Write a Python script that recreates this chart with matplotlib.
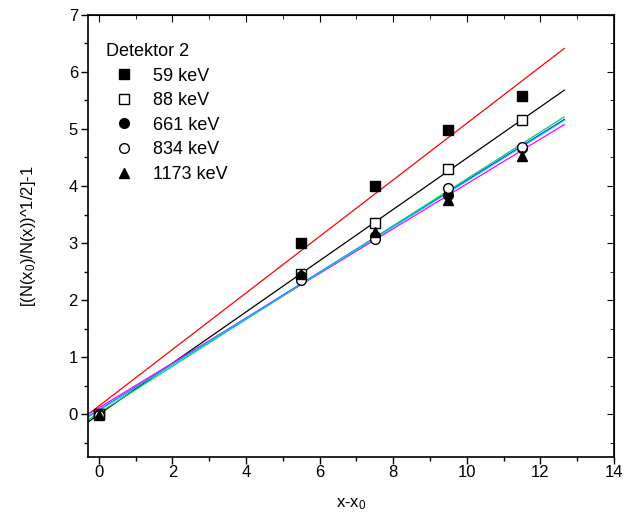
import matplotlib
matplotlib.use("Agg")
import matplotlib.pyplot as plt
from matplotlib.ticker import MultipleLocator
import numpy as np

plt.rcParams['font.family'] = ['Liberation Sans', 'DejaVu Sans']
plt.rcParams['mathtext.fontset'] = 'custom'
plt.rcParams['mathtext.rm'] = 'Liberation Sans'
plt.rcParams['mathtext.it'] = 'Liberation Sans'

# odleglosc x - x0
x = np.array([0, 5.5, 7.5, 9.5, 11.5])

labels = ['59 keV', '88 keV', '661 keV', '834 keV', '1173 keV']
y59 = [0.0, 3.00, 4.00, 4.98, 5.58]
y88 = [0.0, 2.45, 3.35, 4.30, 5.15]
y661 = [0.0, 2.42, 3.12, 3.85, 4.66]
y834 = [-0.02, 2.35, 3.07, 3.97, 4.68]
y1173 = [-0.02, 2.45, 3.20, 3.75, 4.52]
series = [y59, y88, y661, y834, y1173]

markers = ['s', 's', 'o', 'o', '^']
facecols = ['black', 'white', 'black', 'white', 'black']
linecols = ['red', 'black', 'blue', '#00d060', 'magenta']

fig = plt.figure(figsize=(6.31, 5.14), dpi=100)
ax = fig.add_axes([0.139, 0.111, 0.834, 0.86])

xf = np.array([-0.3, 12.65])
for ys, c in zip(series, linecols):
    k, b = np.polyfit(x, ys, 1)
    ax.plot(xf, k * xf + b, color=c, lw=0.9, zorder=1)

# dopasowanie wspolne dla 661/834/1173
xa = np.concatenate([x, x, x])
ya = np.concatenate([y661, y834, y1173])
k, b = np.polyfit(xa, ya, 1)
ax.plot(xf, k * xf + b, color='#00c8ff', lw=0.9, zorder=1)

for ys, m, fc, lab in zip(series, markers, facecols, labels):
    ax.plot(x, ys, ls='none', marker=m, ms=7, mfc=fc, mec='black', mew=1.0,
            label=lab, zorder=3)

ax.set_xlim(-0.3, 14)
ax.set_ylim(-0.75, 7)
ax.xaxis.set_major_locator(MultipleLocator(2))
ax.xaxis.set_minor_locator(MultipleLocator(1))
ax.yaxis.set_major_locator(MultipleLocator(1))
ax.yaxis.set_minor_locator(MultipleLocator(0.5))
ax.tick_params(which='both', direction='out', labelsize=12, width=1)
ax.tick_params(which='major', length=5)
ax.tick_params(which='minor', length=3)
ax.tick_params(axis='x', which='major', pad=0.5)
ax.tick_params(axis='y', which='major', pad=2)
ax.tick_params(which='both', top=False, right=False)
for s in ax.spines.values():
    s.set_linewidth(1.2)

# ticki wewnetrzne na gornej i prawej osi
top = ax.secondary_xaxis('top')
top.xaxis.set_major_locator(MultipleLocator(2))
top.xaxis.set_minor_locator(MultipleLocator(1))
top.tick_params(which='both', direction='in', labeltop=False)
top.tick_params(which='major', length=5)
top.tick_params(which='minor', length=3)
right = ax.secondary_yaxis('right')
right.yaxis.set_major_locator(MultipleLocator(1))
right.yaxis.set_minor_locator(MultipleLocator(0.5))
right.tick_params(which='both', direction='in', labelright=False)
right.tick_params(which='major', length=5)
right.tick_params(which='minor', length=3)

ax.set_xlabel(r'x-x$_0$', fontsize=12, labelpad=12)
ax.set_ylabel(r'[(N(x$_0$)/N(x))^1/2]-1', fontsize=12, labelpad=22)

leg = ax.legend(title='Detektor 2', loc='upper left', frameon=False,
                fontsize=13, title_fontsize=13, bbox_to_anchor=(0.01, 0.965),
                handletextpad=0.6, labelspacing=0.42, borderaxespad=0.3)
leg._legend_box.align = 'left'

fig.savefig('out.png', dpi=100)
